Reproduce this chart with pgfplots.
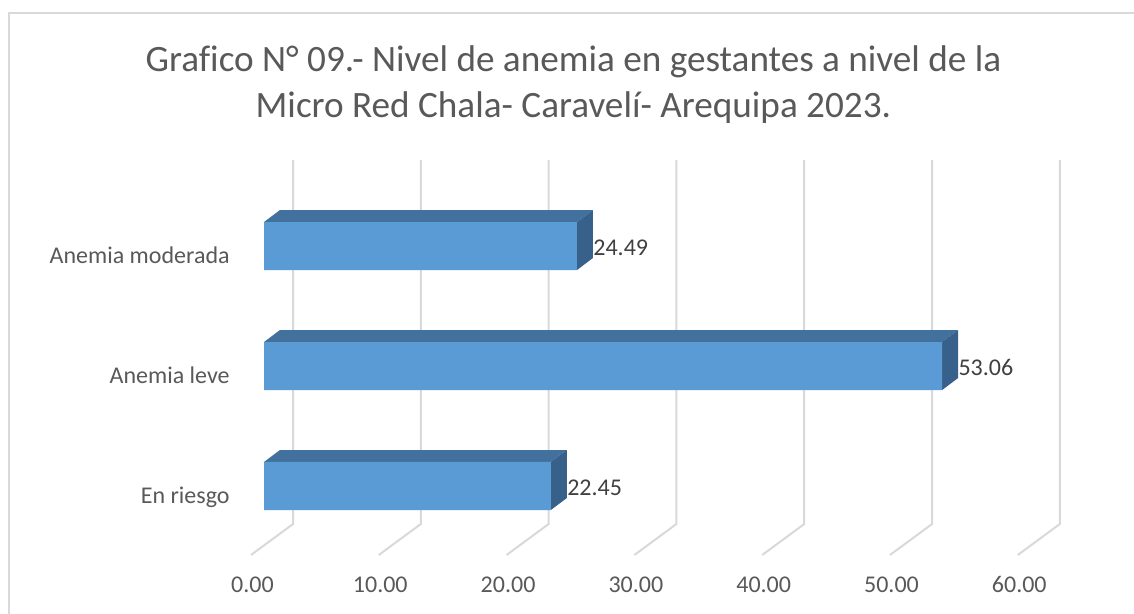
\documentclass[border=0pt]{standalone}
\usepackage{fontspec}
\setmainfont{Carlito}[Ligatures=NoCommon]
\usepackage{pgfplots}
\pgfplotsset{compat=1.18}
\definecolor{barfront}{HTML}{5B9BD5}
\definecolor{bartop}{HTML}{41719C}
\definecolor{barside}{HTML}{37618A}
\definecolor{gridc}{HTML}{D9D9D9}
\definecolor{txt}{HTML}{595959}
\definecolor{lbl}{HTML}{404040}
\begin{document}
\begin{tikzpicture}
\useasboundingbox (0,0) rectangle (567pt,307pt);
\fill[white] (0,0) rectangle (567pt,307pt);
\draw[gridc, line width=0.8pt] (4.5pt,-10pt) rectangle (580pt,300.5pt);
\node[txt, font=\fontsize{18.6}{23}\selectfont, align=center] at (286.7pt,264.5pt)
  {Grafico N° 09.- Nivel de anemia en gestantes a nivel de la\\Micro Red Chala- Caravelí- Arequipa 2023.};
\begin{axis}[
  at={(132pt,29.5pt)}, anchor=south west, scale only axis,
  width=383.4pt, height=197.5pt,
  xmin=0, xmax=60, ymin=-0.575, ymax=2.717,
  clip=false,
  axis line style={draw=none}, tick style={draw=none},
  xtick={0,10,20,30,40,50,60},
  ytick={0,1,2},
  yticklabels={En riesgo, Anemia leve, Anemia moderada},
  xticklabel style={anchor=base, inner sep=0pt, yshift=-19pt, xshift=-5.75pt, text=txt, font=\fontsize{12}{14}\selectfont,
    /pgf/number format/fixed, /pgf/number format/fixed zerofill, /pgf/number format/precision=2, /pgf/number format/assume math mode=true},
  yticklabel style={anchor=base east, inner sep=0pt, xshift=-17pt, yshift=-8.5pt, text=txt, font=\fontsize{12}{14}\selectfont},
]
% gridlines: floor diagonal + back wall
\addplot[gridc, line width=1pt, mark=none] coordinates {(-1.02,-0.575) (2.27,-0.317) (2.27,2.717)};
\addplot[gridc, line width=1pt, mark=none] coordinates {(8.98,-0.575) (12.27,-0.317) (12.27,2.717)};
\addplot[gridc, line width=1pt, mark=none] coordinates {(18.98,-0.575) (22.27,-0.317) (22.27,2.717)};
\addplot[gridc, line width=1pt, mark=none] coordinates {(28.98,-0.575) (32.27,-0.317) (32.27,2.717)};
\addplot[gridc, line width=1pt, mark=none] coordinates {(38.98,-0.575) (42.27,-0.317) (42.27,2.717)};
\addplot[gridc, line width=1pt, mark=none] coordinates {(48.98,-0.575) (52.27,-0.317) (52.27,2.717)};
\addplot[gridc, line width=1pt, mark=none] coordinates {(58.98,-0.575) (62.27,-0.317) (62.27,2.717)};
% top faces
\addplot[fill=bartop, draw=none, mark=none] coordinates {(0,0.2) (1.25,0.3) (23.70,0.3) (22.45,0.2)} -- cycle;
\addplot[fill=bartop, draw=none, mark=none] coordinates {(0,1.2) (1.25,1.3) (54.31,1.3) (53.06,1.2)} -- cycle;
\addplot[fill=bartop, draw=none, mark=none] coordinates {(0,2.2) (1.25,2.3) (25.74,2.3) (24.49,2.2)} -- cycle;
% side faces
\addplot[fill=barside, draw=none, mark=none] coordinates {(22.45,-0.2) (22.45,0.2) (23.70,0.3) (23.70,-0.1)} -- cycle;
\addplot[fill=barside, draw=none, mark=none] coordinates {(53.06,0.8) (53.06,1.2) (54.31,1.3) (54.31,0.9)} -- cycle;
\addplot[fill=barside, draw=none, mark=none] coordinates {(24.49,1.8) (24.49,2.2) (25.74,2.3) (25.74,1.9)} -- cycle;
% front faces
\addplot[xbar, bar width=24pt, fill=barfront, draw=none,
  nodes near coords, point meta=x,
  nodes near coords style={anchor=base west, inner sep=0pt, xshift=8pt, yshift=-4.75pt, text=lbl, font=\fontsize{12}{14}\selectfont,
    /pgf/number format/fixed, /pgf/number format/fixed zerofill, /pgf/number format/precision=2, /pgf/number format/assume math mode=true}]
  coordinates {(22.45,0) (53.06,1) (24.49,2)};
\end{axis}
\end{tikzpicture}
\end{document}
